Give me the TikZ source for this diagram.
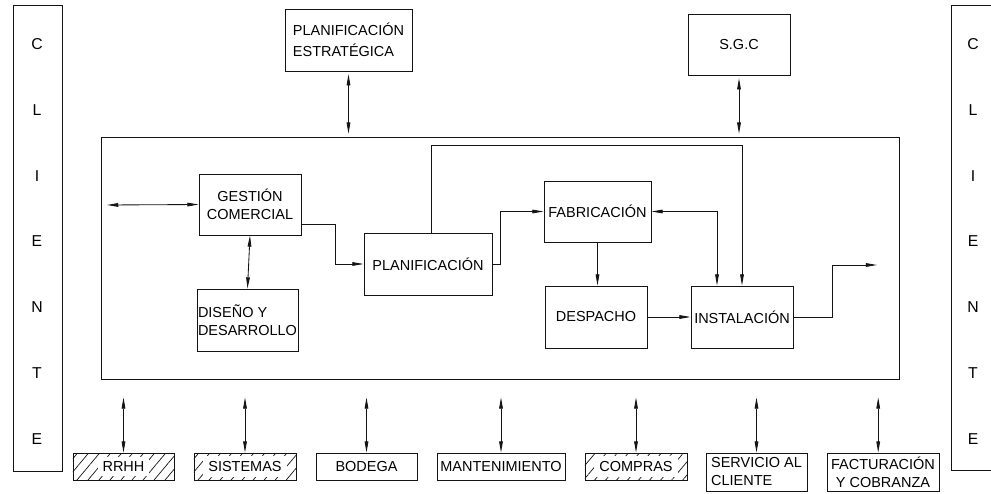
\documentclass[tikz,border=0pt]{standalone}
\usepackage{fontspec}
\setmainfont{Liberation Sans}
\usetikzlibrary{arrows.meta, patterns.meta}
\definecolor{LineColor}{RGB}{20,20,20}
\definecolor{PaperColor}{RGB}{255,255,255}
\tikzstyle{box} = [draw=LineColor, line width=0.6pt, inner sep=0pt, align=center]
\tikzstyle{hatchbox} = [box, pattern={Lines[angle=50,distance=6pt,line width=0.5pt]}, pattern color=LineColor]
\tikzstyle{line} = [line width=0.6pt, LineColor]
\tikzstyle{arrow} = [line, -{Triangle[length=8pt,width=2.6pt]}]
\tikzstyle{biarrow} = [line, {Triangle[length=8pt,width=2.6pt]}-{Triangle[length=8pt,width=2.6pt]}]
\setlength{\fboxsep}{3.5pt}

\begin{document}
\begin{tikzpicture}[x=0.025cm, y=-0.025cm, font=\fontsize{10.3}{12.8}\selectfont]
                \useasboundingbox[fill=PaperColor] (0,0) rectangle (991,493);

                % Cliente columns
                \node[box, minimum width=1.225cm, minimum height=11.65cm] (clil) at (37.5,238) {};
                \node[box, minimum width=1.225cm, minimum height=11.625cm] (clir) at (975.5,237.5) {};
                \foreach \l [count=\i, evaluate=\i as \y using 44+65.8*(\i-1)] in {C,L,I,E,N,T,E} {
                    \node[font=\fontsize{11.2}{13}\selectfont] (cl\i) at (37,\y) {\l};
                    \node[font=\fontsize{11.2}{13}\selectfont] (cr\i) at (973,\y) {\l};
                }

                % Top boxes
                \node[box, align=left, minimum width=3.175cm, minimum height=1.55cm,
                      font=\fontsize{10.3}{14.9}\selectfont] (pe) at (348.5,40) {PLANIFICACIÓN\\ESTRATÉGICA};
                \node[box, minimum width=2.55cm, minimum height=1.525cm] (sgc) at (739,44.5) {S.G.C};

                % Process frame
                \node[box, minimum width=19.925cm, minimum height=6.05cm] (proc) at (500.5,258) {};

                % Processes
                \node[box, minimum width=2.55cm, minimum height=1.525cm] (gc) at (250,204.5) {GESTIÓN\\COMERCIAL};
                \node[box, align=left, minimum width=2.525cm, minimum height=1.55cm] (dd) at (247.5,320) {DISEÑO Y\\DESARROLLO};
                \node[box, minimum width=3.2cm, minimum height=1.55cm] (plan) at (428,264) {PLANIFICACIÓN};
                \node[box, minimum width=2.675cm, minimum height=1.525cm] (fab) at (597.5,211.5) {FABRICACIÓN};
                \node[box, minimum width=2.55cm, minimum height=1.55cm] (desp) at (596,317) {DESPACHO};
                \node[box, minimum width=2.55cm, minimum height=1.55cm] (inst) at (742,317) {INSTALACIÓN};

                % Support boxes
                \node[hatchbox, minimum width=2.525cm, minimum height=0.675cm] (rrhh) at (123.5,466.5) {\colorbox{PaperColor}{RRHH}};
                \node[hatchbox, minimum width=2.55cm, minimum height=0.675cm] (sis) at (245,466.5) {\colorbox{PaperColor}{SISTEMAS}};
                \node[box, minimum width=2.525cm, minimum height=0.675cm] (bod) at (366.5,466.5) {BODEGA};
                \node[box, minimum width=3.2cm, minimum height=0.675cm] (mant) at (501,466.5) {MANTENIMIENTO};
                \node[hatchbox, minimum width=2.55cm, minimum height=0.675cm] (comp) at (636,466.5) {\colorbox{PaperColor}{COMPRAS}};
                \node[box, align=left, minimum width=2.525cm, minimum height=0.95cm] (serv) at (756.5,472) {SERVICIO AL\\CLIENTE};
                \node[box, minimum width=2.8cm, minimum height=0.95cm] (fact) at (883,472) {FACTURACIÓN\\Y COBRANZA};

                % Free ends
                \coordinate (in) at (107,205);
                \coordinate (out) at (877,265);

                % Top links
                \draw[biarrow, shorten <=2pt, shorten >=2pt] (pe.south) -- (pe.south |- proc.north);
                \draw[biarrow, shorten <=2pt, shorten >=2pt] (sgc.south) -- (sgc.south |- proc.north);

                % Process flow
                \draw[biarrow] (in) -- (gc.west);
                \draw[biarrow] (gc.south) -- (dd.north);
                \draw[arrow] ([yshift=-0.4875cm]gc.east) -- ++(34,0) |- (plan.west);
                \draw[arrow] (plan.east) -- ++(8,0) |- (fab.west);
                \draw[arrow] ([xshift=0.075cm]plan.north) -- ++(0,-87) -| (inst.north);
                \draw[biarrow] (fab.east) -| ([xshift=-0.625cm]inst.north);
                \draw[arrow] (fab.south) -- (fab.south |- desp.north);
                \draw[arrow] (desp.east) -- (inst.west);
                \draw[arrow] (inst.east) -- ++(39,0) |- (out);

                % Support links
                \foreach \s in {rrhh, sis, bod, mant, comp, serv}
                    \draw[biarrow, shorten >=0.45cm] (\s.north) -- (\s.north |- proc.south);
                \draw[biarrow, shorten >=0.45cm] ([xshift=-0.12cm]fact.north) -- ([xshift=-0.12cm]fact.north |- proc.south);
            \end{tikzpicture}
\end{document}
